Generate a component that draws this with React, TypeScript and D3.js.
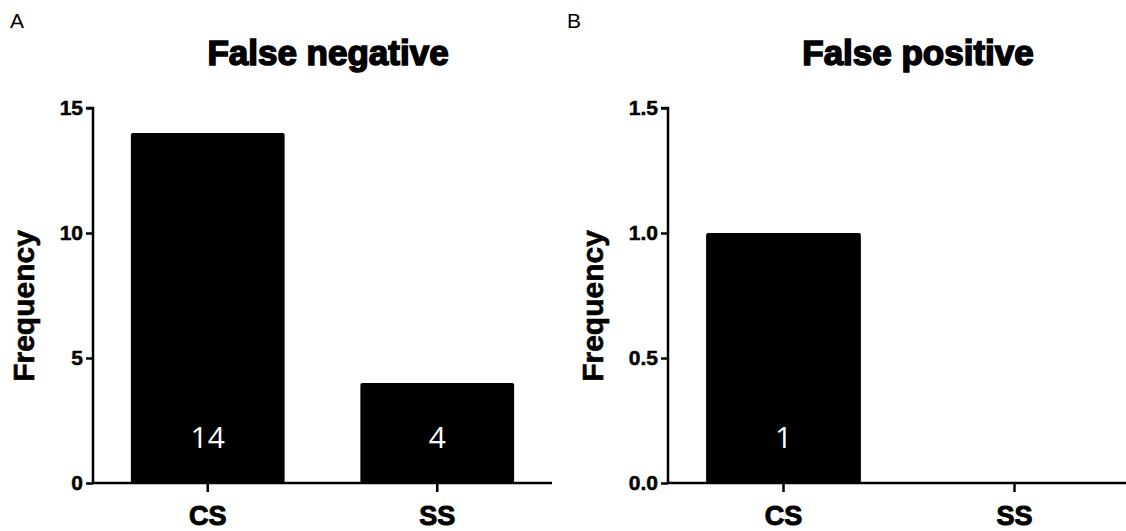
import React, { useEffect, useRef } from 'react';
import * as d3 from 'd3';

// Data
const categories = ['CS', 'SS'];
const falseNegative = [14, 4];
const falsePositive = [1, 0];
const ticksA = [0, 5, 10, 15];
const ticksB = [0, 0.5, 1.0, 1.5];

const W = 1126;
const H = 531;

const App = () => {
  const svgRef = useRef<SVGSVGElement>(null);

  useEffect(() => {
    const svg = d3.select(svgRef.current);
    svg.selectAll('*').remove();

    const panels = [
      { letter: 'A', title: 'False negative', values: falseNegative, ticks: ticksA, max: 15, fmt: d3.format('d'), x0: 93, x1: 552, letterX: 10, titleX: 328, labelX: 34 },
      { letter: 'B', title: 'False positive', values: falsePositive, ticks: ticksB, max: 1.5, fmt: d3.format('.1f'), x0: 668, x1: 1130, letterX: 567, titleX: 918, labelX: 603 },
    ];

    const yTop = 108;
    const yBottom = 483;
    const font = 'Liberation Sans, Arial, sans-serif';

    panels.forEach(p => {
      const g = svg.append('g');

      // Scales
      const x = d3.scaleBand()
        .domain(categories)
        .range([p.x0, p.x1])
        .paddingInner(0.33)
        .paddingOuter(0.165);

      const y = d3.scaleLinear()
        .domain([0, p.max])
        .range([yBottom, yTop]);

      // Panel letter and title
      g.append('text')
        .attr('x', p.letterX)
        .attr('y', 28)
        .style('font-family', font)
        .style('font-size', '21px')
        .text(p.letter);

      g.append('text')
        .attr('x', p.titleX)
        .attr('y', 65)
        .attr('text-anchor', 'middle')
        .style('font-family', font)
        .style('font-size', '35px')
        .style('font-weight', 'bold')
        .attr('stroke', '#000')
        .attr('stroke-width', 1.6)
        .text(p.title);

      // Bars
      const data = categories.map((c, i) => ({ c, v: p.values[i] }));
      g.selectAll('.bar')
        .data(data.filter(d => d.v > 0))
        .enter().append('rect')
        .attr('class', 'bar')
        .attr('x', d => x(d.c)!)
        .attr('width', x.bandwidth())
        .attr('y', d => y(d.v))
        .attr('height', d => yBottom - y(d.v))
        .attr('rx', 2)
        .attr('fill', '#000');

      // Value labels in bars
      g.selectAll('.val')
        .data(data.filter(d => d.v > 0))
        .enter().append('text')
        .attr('class', 'val')
        .attr('x', d => x(d.c)! + x.bandwidth() / 2)
        .attr('y', 448)
        .attr('text-anchor', 'middle')
        .attr('fill', '#fff')
        .style('font-family', 'Open Sans, sans-serif')
        .style('font-size', '30px')
        .text(d => String(d.v));

      // Y axis
      const yAxis = g.append('g')
        .attr('transform', `translate(${p.x0},0)`)
        .call(d3.axisLeft(y).tickValues(p.ticks).tickFormat(p.fmt as any).tickSize(7).tickPadding(3));
      yAxis.select('.domain').attr('stroke-width', 2.5).attr('d', `M-7,${yTop}H0V${yBottom}`);
      yAxis.selectAll('.tick line').attr('stroke-width', 2.5);
      yAxis.selectAll('.tick text')
        .style('font-family', font)
        .style('font-size', '21px')
        .style('font-weight', 'bold')
        .attr('stroke', '#000')
        .attr('stroke-width', 0.5)
        .attr('fill', '#000');

      // X axis
      const xAxis = g.append('g')
        .attr('transform', `translate(0,${yBottom})`)
        .call(d3.axisBottom(x).tickSize(9).tickPadding(14));
      xAxis.select('.domain').attr('stroke-width', 2.5).attr('d', `M${p.x0},0H${p.x1}`);
      xAxis.selectAll('.tick line').attr('stroke-width', 2.5);
      xAxis.selectAll('.tick text')
        .style('font-family', font)
        .style('font-size', '27px')
        .style('font-weight', 'bold')
        .attr('stroke', '#000')
        .attr('stroke-width', 1)
        .attr('fill', '#000');

      // Y label
      g.append('text')
        .attr('transform', 'rotate(-90)')
        .attr('x', -306)
        .attr('y', p.labelX)
        .attr('text-anchor', 'middle')
        .style('font-family', font)
        .style('font-size', '30px')
        .style('font-weight', 'bold')
        .attr('stroke', '#000')
        .attr('stroke-width', 0.6)
        .text('Frequency');
    });
  }, []);

  return (
    <svg ref={svgRef} width={W} height={H} style={{ position: 'absolute', left: 0, top: 0, background: '#fff' }}></svg>
  );
};

export default App;
